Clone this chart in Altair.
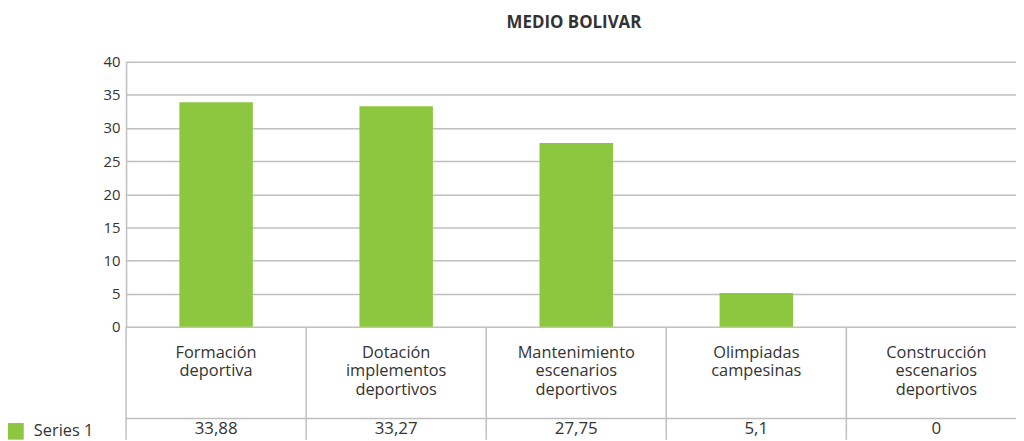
import altair as alt
import pandas as pd

# ---- data ----
categories = [
    "Formación deportiva",
    "Dotación implementos deportivos",
    "Mantenimiento escenarios deportivos",
    "Olimpiadas campesinas",
    "Construcción escenarios deportivos",
]
values = [33.88, 33.27, 27.75, 5.1, 0]
series_name = "Series 1"
y_ticks = [0, 5, 10, 15, 20, 25, 30, 35, 40]
title_text = "MEDIO BOLIVAR"

# ---- style ----
GREEN = "#8DC63F"
GRID = "#BFBFBF"
TEXT = "#333333"
FONT = "Open Sans"

PLOT_W = 897
PLOT_H = 267
BAND_RANGE = 907.5

df = pd.DataFrame({"categoria": categories, "valor": values, "serie": [series_name] * len(categories)})

x_scale = alt.Scale(range=[0, BAND_RANGE], paddingInner=0, paddingOuter=0)


def xenc(**kw):
    return alt.X("categoria:N", sort=categories, axis=None, scale=x_scale, **kw)


base = alt.Chart(df)

bars = base.mark_bar(width=alt.RelativeBandSize(0.408)).encode(
    x=xenc(),
    y=alt.Y(
        "valor:Q",
        scale=alt.Scale(domain=[0, 40], nice=False),
        axis=alt.Axis(
            values=y_ticks,
            title=None,
            ticks=False,
            labelPadding=6,
            labelFont=FONT,
            labelFontSize=15,
            labelColor=TEXT,
            gridColor=GRID,
            gridWidth=1.5,
            domainColor=GRID,
            domainWidth=1.5,
        ),
    ),
    color=alt.Color(
        "serie:N",
        scale=alt.Scale(range=[GREEN]),
        legend=alt.Legend(
            orient="none",
            legendX=-120,
            legendY=364,
            title=None,
            symbolType="square",
            symbolSize=280,
            symbolStrokeWidth=0,
            labelFont=FONT,
            labelFontSize=16.5,
            labelColor=TEXT,
            labelOffset=10,
        ),
    ),
)

separators = base.mark_rule(color=GRID, strokeWidth=1.5).encode(
    x=xenc(bandPosition=0),
    y=alt.value(PLOT_H),
    y2=alt.value(PLOT_H + 114),
)

hline = alt.Chart(pd.DataFrame({"k": [0]})).mark_rule(color=GRID, strokeWidth=1.5).encode(
    x=alt.value(0), x2=alt.value(PLOT_W), y=alt.value(359.5)
)

cat_text = base.mark_text(
    lineBreak=" ", baseline="top", font=FONT, fontSize=16.5, lineHeight=18.5, color=TEXT
).encode(x=xenc(), y=alt.value(285.6), text="categoria:N")

val_text = base.transform_calculate(
    etiqueta="replace(toString(datum.valor), '.', ',')"
).mark_text(baseline="alphabetic", font=FONT, fontSize=17, color=TEXT).encode(
    x=xenc(), y=alt.value(375.5), text="etiqueta:N"
)

chart = (
    alt.layer(separators, hline, bars, cat_text, val_text)
    .properties(
        width=PLOT_W,
        height=PLOT_H,
        padding={"left": 119, "top": 52.5, "right": 0, "bottom": 113.5},
        autosize=alt.AutoSizeParams(type="none"),
        title=alt.TitleParams(
            title_text,
            anchor="middle",
            font=FONT,
            fontSize=17,
            fontWeight="bold",
            color=TEXT,
            offset=23,
            dx=3,
        ),
    )
    .configure_view(stroke=None)
)

chart.save("out.html", embed_options={"renderer": "svg", "actions": False})
